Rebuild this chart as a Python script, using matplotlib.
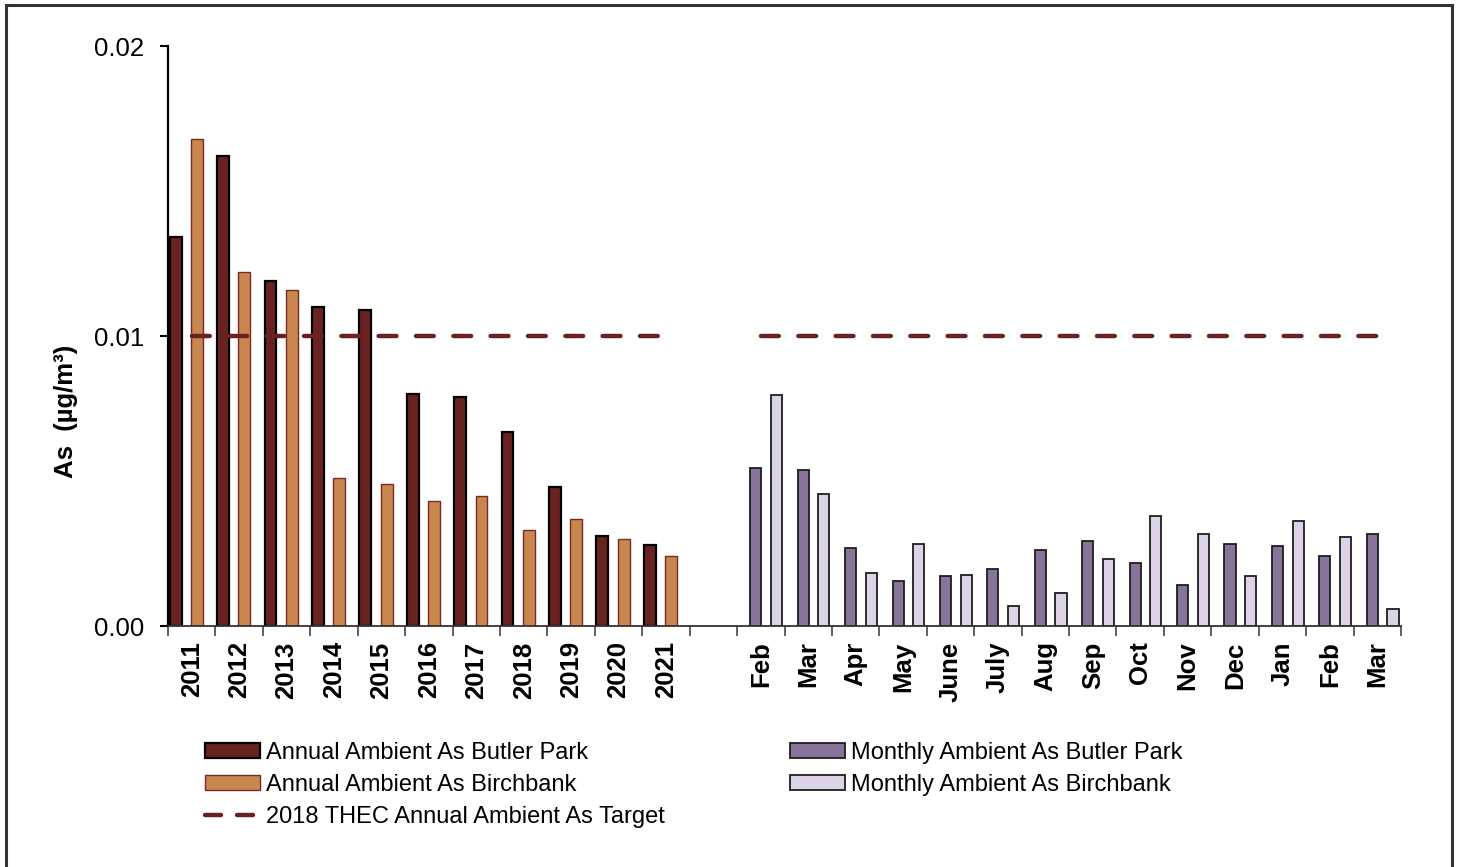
import matplotlib
matplotlib.use("Agg")
import matplotlib.pyplot as plt
import numpy as np
from matplotlib.patches import Rectangle, Patch
from matplotlib.lines import Line2D

plt.rcParams['font.family'] = ['Liberation Sans', 'DejaVu Sans']

# ---- data ----
years = ['2011', '2012', '2013', '2014', '2015', '2016', '2017', '2018', '2019', '2020', '2021']
months = ['Feb', 'Mar', 'Apr', 'May', 'June', 'July', 'Aug', 'Sep', 'Oct', 'Nov', 'Dec', 'Jan', 'Feb', 'Mar']
annual_butler = [0.0134, 0.0162, 0.0119, 0.0110, 0.0109, 0.0080, 0.0079, 0.0067, 0.0048, 0.0031, 0.0028]
annual_birch = [0.0168, 0.0122, 0.0116, 0.0051, 0.0049, 0.0043, 0.0045, 0.0033, 0.0037, 0.0030, 0.0024]
monthly_butler = [0.00545, 0.00538, 0.00269, 0.00155, 0.00172, 0.00197, 0.00262,
                  0.00293, 0.00217, 0.00141, 0.00283, 0.00276, 0.00241, 0.00317]
monthly_birch = [0.00797, 0.00455, 0.00183, 0.00283, 0.00176, 0.00069, 0.00114,
                 0.00231, 0.00379, 0.00317, 0.00172, 0.00362, 0.00307, 0.00059]
target = 0.01
y_ticks = [0.0, 0.01, 0.02]
y_ticklabels = ['0.00', '0.01', '0.02']

labels_all = years + [''] + months
n_years = len(years)
x_year = np.arange(n_years)
x_month = np.arange(n_years + 1, n_years + 1 + len(months))

fig = plt.figure(figsize=(14.59, 8.67), dpi=100)
ax = fig.add_axes([168/1459, 1 - 626/867, 1233/1459, 580/867])

w = 0.25
c_ab = '#6A2220'
c_abi = '#C9874F'
c_mb = '#88739B'
c_mbi = '#DDD3E7'

ax.bar(x_year - 0.34, annual_butler, width=w, color=c_ab, edgecolor='black', linewidth=1.6, zorder=2)
ax.bar(x_year + 0.11, annual_birch, width=w, color=c_abi, edgecolor='#7A2A25', linewidth=1.0, zorder=2)
ax.bar(x_month - 0.105, monthly_butler, width=0.235, color=c_mb, edgecolor='#1E1E1E', linewidth=1.3, zorder=2)
ax.bar(x_month + 0.33, monthly_birch, width=0.235, color=c_mbi, edgecolor='#1E1E1E', linewidth=1.3, zorder=2)

dash_kw = dict(color='#6A2220', linewidth=3.2, dashes=(4.0, 4.4), dash_capstyle='round', zorder=3)
ax.plot([x_year[0], x_year[-1]], [target, target], **dash_kw)
ax.plot([x_month[0], x_month[-1]], [target, target], **dash_kw)

ax.set_xlim(-0.5, len(labels_all) - 0.5)
ax.set_ylim(0, 0.02)
for s in ['top', 'right']:
    ax.spines[s].set_visible(False)
ax.spines['left'].set_linewidth(1.6)
ax.spines['bottom'].set_linewidth(1.3)
ax.spines['bottom'].set_color('#333333')

ax.set_yticks(y_ticks)
ax.set_yticklabels(y_ticklabels, fontsize=18.5)
ax.tick_params(axis='y', length=6, width=1.5, pad=11, direction='out')

ax.set_xticks(np.arange(len(labels_all)))
ax.set_xticklabels(labels_all, rotation=90, fontsize=18.5, fontweight='bold')
ax.set_xticks(np.arange(-0.5, len(labels_all)), minor=True)
ax.tick_params(axis='x', which='major', length=0, pad=11)
ax.tick_params(axis='x', which='minor', length=7, width=1.2, color='#444444', direction='out')

ax.set_ylabel('As  (µg/m³)', fontsize=18.5, fontweight='bold')
ax.yaxis.set_label_coords(-0.073, 0.37)

# legends
h1 = [Patch(facecolor=c_ab, edgecolor='black', linewidth=1.6, label='Annual Ambient As Butler Park'),
      Patch(facecolor=c_abi, edgecolor='#7A2A25', linewidth=1.0, label='Annual Ambient As Birchbank'),
      Line2D([0], [0], color='#6A2220', linewidth=3.2, dashes=(3.6, 3.6), dash_capstyle='round',
             label='2018 THEC Annual Ambient As Target')]
h2 = [Patch(facecolor=c_mb, edgecolor='#1E1E1E', linewidth=1.3, label='Monthly Ambient As Butler Park'),
      Patch(facecolor=c_mbi, edgecolor='#1E1E1E', linewidth=1.3, label='Monthly Ambient As Birchbank')]
leg_kw = dict(frameon=False, fontsize=17, handlelength=2.35, handleheight=0.62,
              handletextpad=0.25, labelspacing=0.42, borderpad=0, borderaxespad=0, loc='upper left')
leg1 = fig.legend(handles=h1, bbox_to_anchor=(205/1459, 1 - 742/867), **leg_kw)
leg2 = fig.legend(handles=h2, bbox_to_anchor=(790/1459, 1 - 742/867), **leg_kw)

# outer frame
fig.patches.append(Rectangle((6/1459, -0.02), (1452 - 6)/1459, 1.02 - 5/867,
                             transform=fig.transFigure, fill=False, edgecolor='#333333',
                             linewidth=2.2, zorder=10))

fig.savefig('out.png', dpi=100)
